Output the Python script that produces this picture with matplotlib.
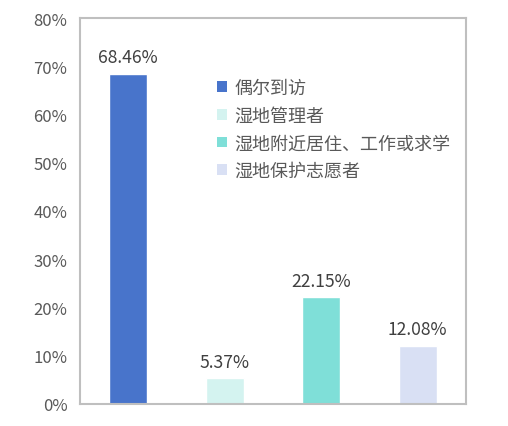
import matplotlib.pyplot as plt
from matplotlib.patches import Patch
from matplotlib.ticker import PercentFormatter

plt.rcParams['font.family'] = ['Noto Sans CJK SC', 'DejaVu Sans']

categories = ["偶尔到访", "湿地管理者", "湿地附近居住、工作或求学", "湿地保护志愿者"]
values = [68.46, 5.37, 22.15, 12.08]
colors = ["#4874CB", "#D4F3F0", "#7FDFD8", "#D9E0F4"]
yticks = [0, 10, 20, 30, 40, 50, 60, 70, 80]

fig = plt.figure(figsize=(5.08, 4.27), dpi=100)
ax = fig.add_axes([80 / 508, 1 - 405 / 427, 386 / 508, 386 / 427])

x = list(range(len(values)))
bars = ax.bar(x, values, width=0.39, color=colors, edgecolor="white", linewidth=1)

for b, v in zip(bars, values):
    ax.text(b.get_x() + b.get_width() / 2, v + 1.5, f"{v:.2f}%",
            ha="center", va="bottom", fontsize=12.6, color="#404040")

ax.set_xlim(-0.5, 3.5)
ax.set_ylim(0, 80)
ax.set_yticks(yticks)
ax.yaxis.set_major_formatter(PercentFormatter(decimals=0))
ax.set_xticks([])
ax.tick_params(axis="y", length=0, pad=9, labelsize=12, labelcolor="#595959")
for s in ax.spines.values():
    s.set_color("#BFBFBF")
    s.set_linewidth(1.5)

handles = [Patch(facecolor=c, edgecolor="none") for c in colors]
ax.legend(handles, categories, loc="upper left", bbox_to_anchor=(0.337, 0.86),
          frameon=False, fontsize=13, labelcolor="#595959",
          handlelength=0.55, handleheight=0.55, handletextpad=0.4,
          labelspacing=0.53, borderaxespad=0)

fig.savefig("out.png", dpi=100)
